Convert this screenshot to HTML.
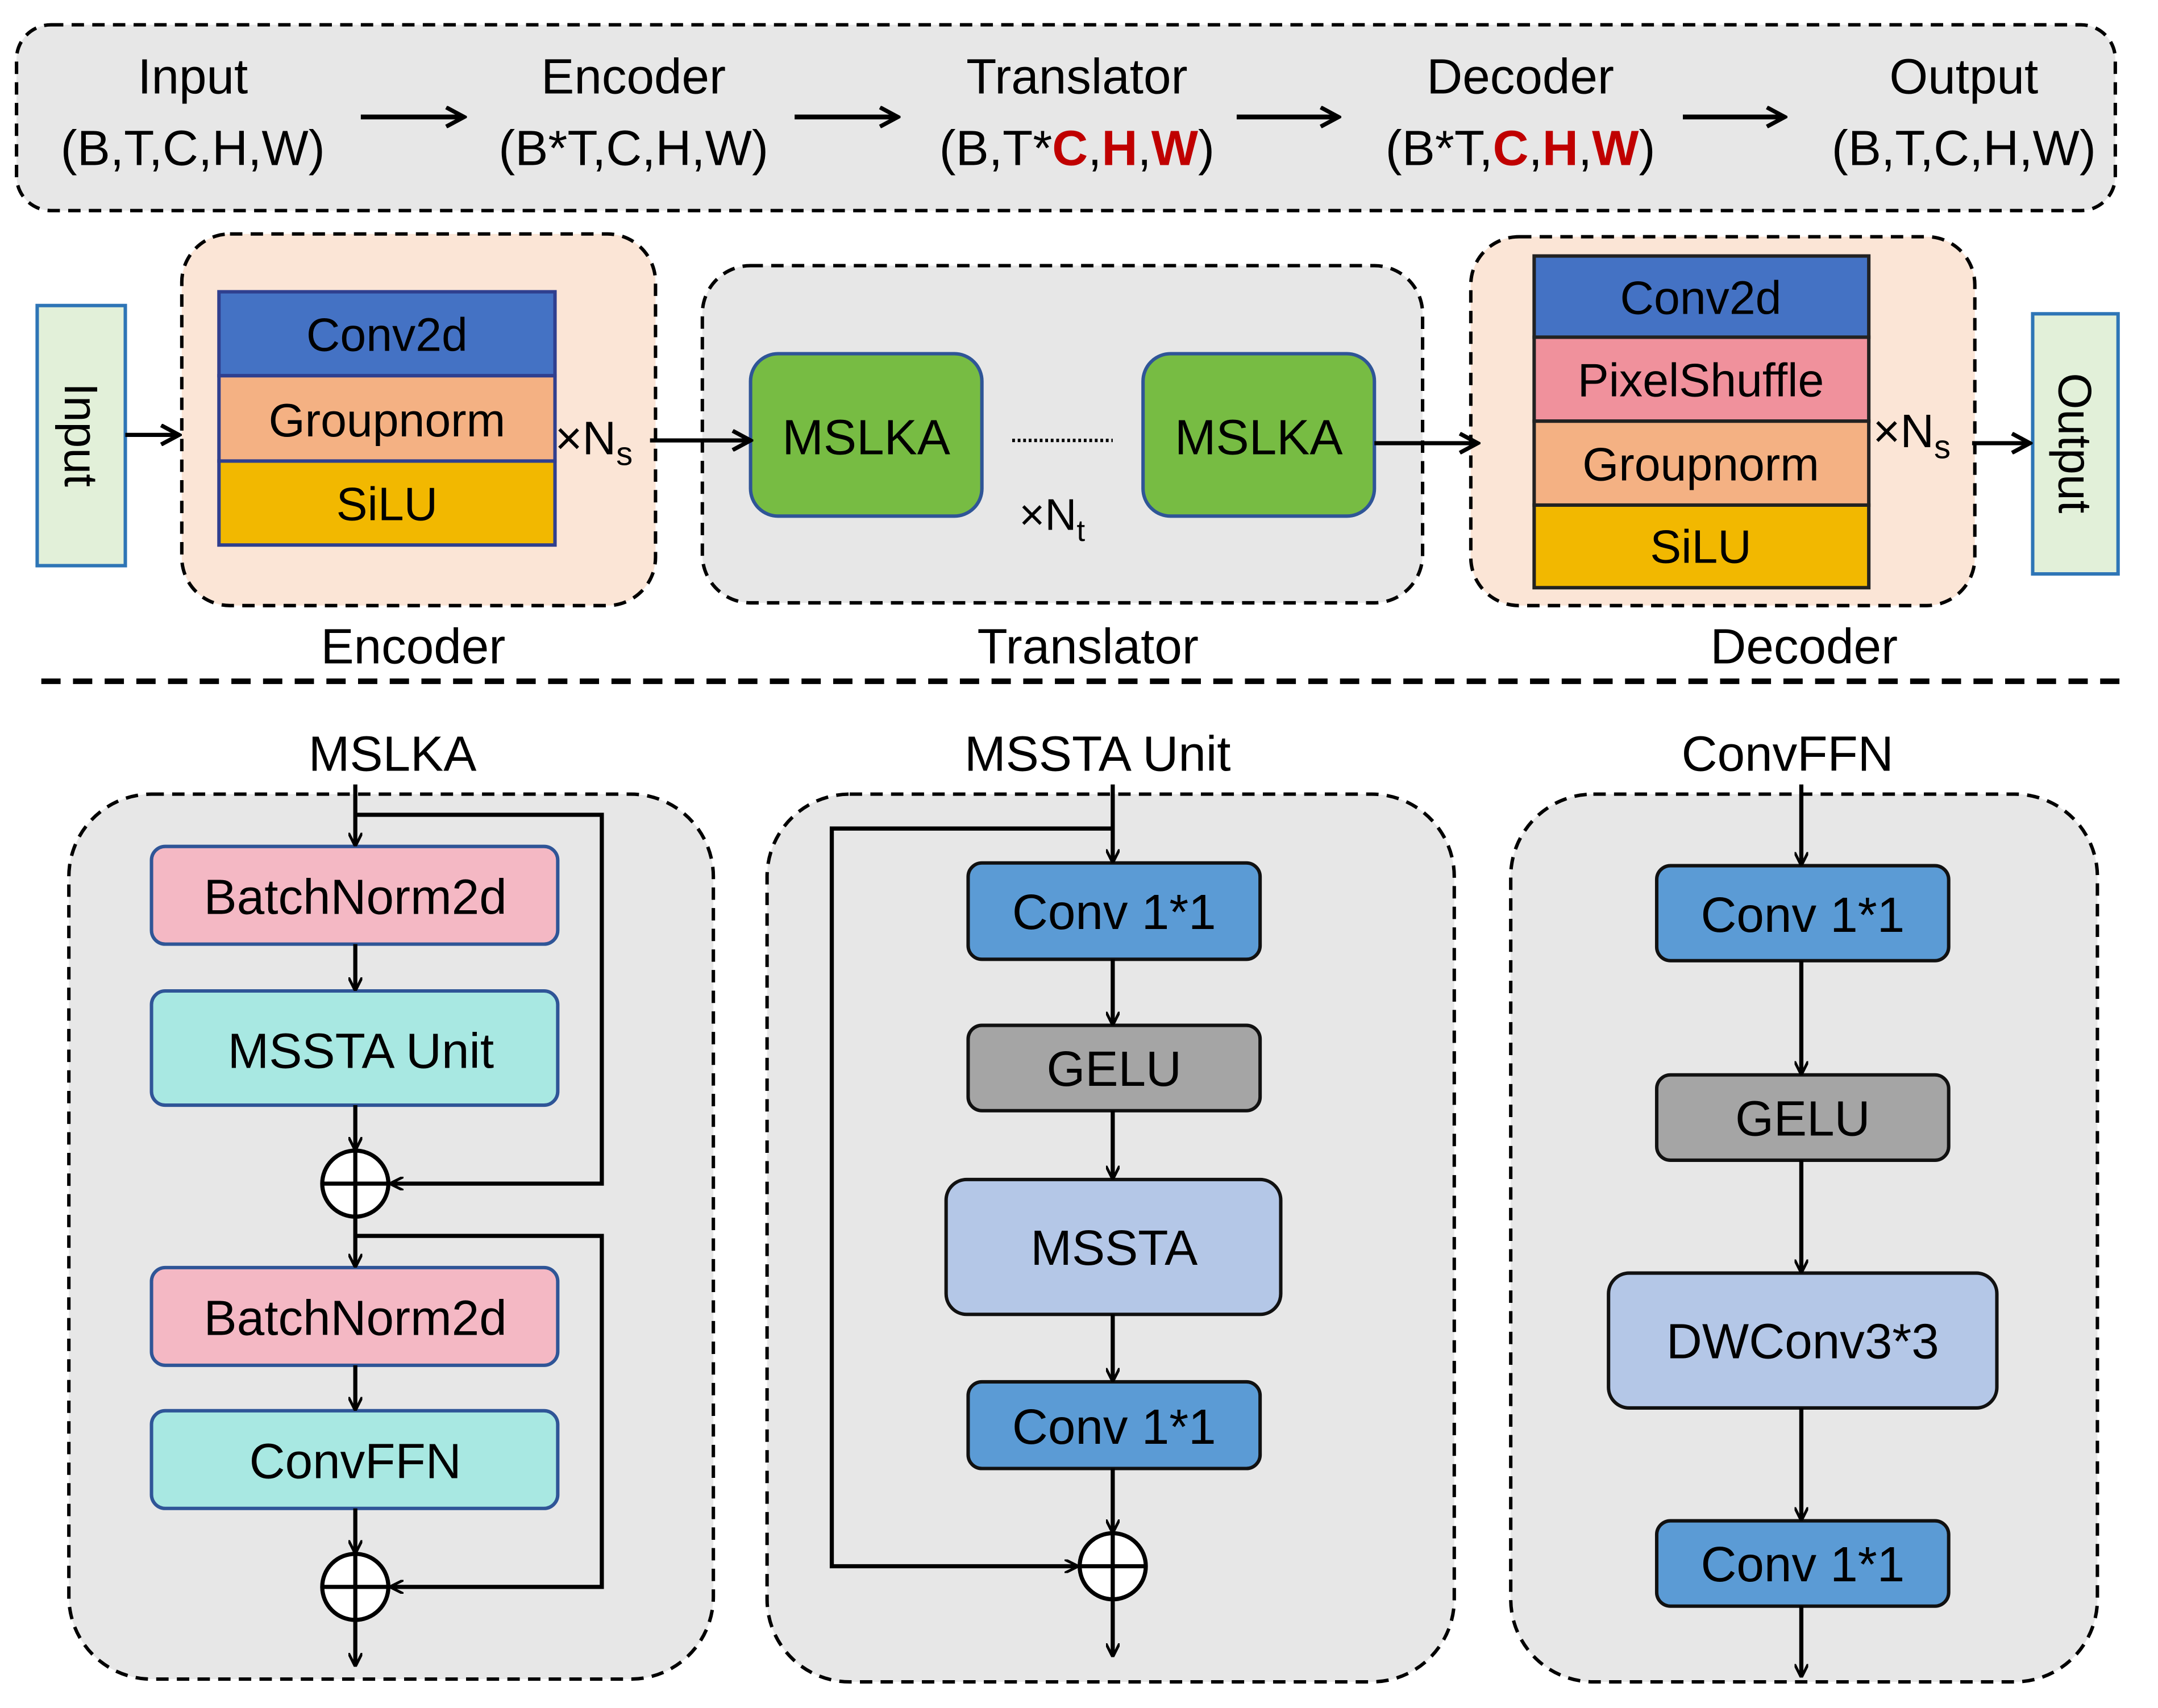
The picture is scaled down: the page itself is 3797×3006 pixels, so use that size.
<!DOCTYPE html>
<html><head><meta charset="utf-8"><style>
html,body{margin:0;padding:0;background:#fff;}
svg{display:block;}
text{font-family:"Liberation Sans",sans-serif;fill:#000;}
</style></head><body>
<svg width="3797" height="3006" viewBox="0 0 1567 1241" preserveAspectRatio="none" xmlns="http://www.w3.org/2000/svg">
<defs>
<marker id="a" markerWidth="10" markerHeight="10" refX="9" refY="5" orient="auto" markerUnits="userSpaceOnUse" viewBox="0 0 10 10">
<path d="M0,0 L10,5 L0,10" fill="none" stroke="#000" stroke-width="2"/></marker>
<marker id="b" markerWidth="16" markerHeight="16" refX="14" refY="8" orient="auto" markerUnits="userSpaceOnUse" viewBox="0 0 16 16">
<path d="M1,1 L14,8 L1,15" fill="none" stroke="#000" stroke-width="3"/></marker>
</defs>
<rect x="12" y="18" width="1524" height="135" rx="25" fill="#e7e7e7" stroke="#000" stroke-width="2.5" stroke-dasharray="9,6"/>
<g font-size="36" text-anchor="middle">
<text x="140" y="68">Input</text><text x="140" y="120">(B,T,C,H,W)</text>
<text x="460" y="68">Encoder</text><text x="460" y="120">(B*T,C,H,W)</text>
<text x="782" y="68">Translator</text><text x="782" y="120">(B,T*<tspan fill="#c00000" font-weight="bold">C</tspan>,<tspan fill="#c00000" font-weight="bold">H</tspan>,<tspan fill="#c00000" font-weight="bold">W</tspan>)</text>
<text x="1104" y="68">Decoder</text><text x="1104" y="120">(B*T,<tspan fill="#c00000" font-weight="bold">C</tspan>,<tspan fill="#c00000" font-weight="bold">H</tspan>,<tspan fill="#c00000" font-weight="bold">W</tspan>)</text>
<text x="1426" y="68">Output</text><text x="1426" y="120">(B,T,C,H,W)</text>
</g>
<g stroke="#000" stroke-width="3.5" marker-end="url(#b)">
<line x1="262" y1="85" x2="337" y2="85"/><line x1="577" y1="85" x2="652" y2="85"/>
<line x1="898" y1="85" x2="972" y2="85"/><line x1="1222" y1="85" x2="1296" y2="85"/>
</g>
<rect x="27" y="222" width="64" height="189" fill="#e2f0d9" stroke="#2e75b6" stroke-width="2.5"/>
<text x="59" y="316" font-size="34" text-anchor="middle" transform="rotate(90 59 316)" dy="12">Input</text>
<rect x="1476" y="228" width="62" height="189" fill="#e2f0d9" stroke="#2e75b6" stroke-width="2.5"/>
<text x="1507" y="322" font-size="34" text-anchor="middle" transform="rotate(90 1507 322)" dy="12">Output</text>
<rect x="132" y="170" width="344" height="270" rx="35" fill="#fbe5d6" stroke="#000" stroke-width="2.5" stroke-dasharray="9,6"/>
<g stroke="#2f3f8f" stroke-width="2.5">
<rect x="159" y="212" width="244" height="61" fill="#4472c4"/>
<rect x="159" y="273" width="244" height="62" fill="#f4b183"/>
<rect x="159" y="335" width="244" height="61" fill="#f2b800"/>
</g>
<g font-size="34" text-anchor="middle">
<text x="281" y="255">Conv2d</text><text x="281" y="317">Groupnorm</text><text x="281" y="378">SiLU</text>
</g>
<text x="403" y="330" font-size="34">×N<tspan font-size="24" dy="8">s</tspan></text>
<rect x="510" y="193" width="523" height="245" rx="35" fill="#e7e7e7" stroke="#000" stroke-width="2.5" stroke-dasharray="9,6"/>
<rect x="545" y="257" width="168" height="118" rx="20" fill="#77bc43" stroke="#2f5597" stroke-width="2.5"/>
<rect x="830" y="257" width="168" height="118" rx="20" fill="#77bc43" stroke="#2f5597" stroke-width="2.5"/>
<text x="629" y="330" font-size="36" text-anchor="middle">MSLKA</text>
<text x="914" y="330" font-size="36" text-anchor="middle">MSLKA</text>
<line x1="735" y1="320" x2="808" y2="320" stroke="#000" stroke-width="2.5" stroke-dasharray="2,2"/>
<text x="740" y="385" font-size="32">×N<tspan font-size="22" dy="8">t</tspan></text>
<rect x="1068" y="172" width="366" height="268" rx="35" fill="#fbe5d6" stroke="#000" stroke-width="2.5" stroke-dasharray="9,6"/>
<g stroke="#222" stroke-width="2.5">
<rect x="1114" y="186" width="243" height="59" fill="#4472c4"/>
<rect x="1114" y="245" width="243" height="61" fill="#f0919c"/>
<rect x="1114" y="306" width="243" height="61" fill="#f4b183"/>
<rect x="1114" y="367" width="243" height="60" fill="#f2b800"/>
</g>
<g font-size="34" text-anchor="middle">
<text x="1235" y="228">Conv2d</text><text x="1235" y="288">PixelShuffle</text>
<text x="1235" y="349">Groupnorm</text><text x="1235" y="409">SiLU</text>
</g>
<text x="1360" y="325" font-size="34">×N<tspan font-size="24" dy="8">s</tspan></text>
<g stroke="#000" stroke-width="3" marker-end="url(#b)">
<line x1="91" y1="316" x2="130" y2="316"/><line x1="472" y1="320" x2="545" y2="320"/>
<line x1="998" y1="322" x2="1073" y2="322"/><line x1="1432" y1="322" x2="1474" y2="322"/>
</g>
<g font-size="36" text-anchor="middle">
<text x="300" y="482">Encoder</text><text x="790" y="482">Translator</text><text x="1310" y="482">Decoder</text>
</g>
<line x1="30" y1="495" x2="1548" y2="495" stroke="#000" stroke-width="4" stroke-dasharray="14,9"/>
<g fill="#e7e7e7" stroke="#000" stroke-width="2.5" stroke-dasharray="9,6">
<rect x="50" y="577" width="468" height="643" rx="60"/>
<rect x="557" y="577" width="499" height="645" rx="60"/>
<rect x="1097" y="577" width="426" height="645" rx="60"/>
</g>
<g font-size="36" text-anchor="middle">
<text x="285" y="560">MSLKA</text><text x="797" y="560">MSSTA Unit</text><text x="1298" y="560">ConvFFN</text>
</g>
<g stroke="#2f5597" stroke-width="2.5">
<rect x="110" y="615" width="295" height="71" rx="10" fill="#f4b8c4"/>
<rect x="110" y="720" width="295" height="83" rx="10" fill="#a8e8e2"/>
<rect x="110" y="921" width="295" height="71" rx="10" fill="#f4b8c4"/>
<rect x="110" y="1025" width="295" height="71" rx="10" fill="#a8e8e2"/>
</g>
<g font-size="36" text-anchor="middle">
<text x="258" y="664">BatchNorm2d</text><text x="262" y="776">MSSTA Unit</text>
<text x="258" y="970">BatchNorm2d</text><text x="258" y="1074">ConvFFN</text>
</g>
<g fill="none" stroke="#000" stroke-width="3">
<circle cx="258" cy="860" r="24" fill="#fff"/><line x1="234" y1="860" x2="282" y2="860"/><line x1="258" y1="836" x2="258" y2="884"/>
<circle cx="258" cy="1153" r="24" fill="#fff"/><line x1="234" y1="1153" x2="282" y2="1153"/><line x1="258" y1="1129" x2="258" y2="1177"/>
<polyline points="258,592 437,592 437,860 284,860" marker-end="url(#a)"/>
<polyline points="258,898 437,898 437,1153 284,1153" marker-end="url(#a)"/>
<line x1="258" y1="570" x2="258" y2="614" marker-end="url(#a)"/>
<line x1="258" y1="686" x2="258" y2="719" marker-end="url(#a)"/>
<line x1="258" y1="803" x2="258" y2="835" marker-end="url(#a)"/>
<line x1="258" y1="884" x2="258" y2="920" marker-end="url(#a)"/>
<line x1="258" y1="992" x2="258" y2="1024" marker-end="url(#a)"/>
<line x1="258" y1="1096" x2="258" y2="1128" marker-end="url(#a)"/>
<line x1="258" y1="1177" x2="258" y2="1210" marker-end="url(#a)"/>
</g>
<g stroke="#111" stroke-width="2.5">
<rect x="703" y="627" width="212" height="70" rx="10" fill="#5b9bd5"/>
<rect x="703" y="745" width="212" height="62" rx="10" fill="#a5a5a5"/>
<rect x="687" y="857" width="243" height="98" rx="15" fill="#b4c7e7"/>
<rect x="703" y="1004" width="212" height="63" rx="10" fill="#5b9bd5"/>
</g>
<g font-size="36" text-anchor="middle">
<text x="809" y="675">Conv 1*1</text><text x="809" y="789">GELU</text>
<text x="809" y="919">MSSTA</text><text x="809" y="1049">Conv 1*1</text>
</g>
<g fill="none" stroke="#000" stroke-width="3">
<circle cx="808" cy="1138" r="24" fill="#fff"/><line x1="784" y1="1138" x2="832" y2="1138"/><line x1="808" y1="1114" x2="808" y2="1162"/>
<polyline points="808,602 604,602 604,1138 782,1138" marker-end="url(#a)"/>
<line x1="808" y1="570" x2="808" y2="626" marker-end="url(#a)"/>
<line x1="808" y1="697" x2="808" y2="744" marker-end="url(#a)"/>
<line x1="808" y1="807" x2="808" y2="856" marker-end="url(#a)"/>
<line x1="808" y1="955" x2="808" y2="1003" marker-end="url(#a)"/>
<line x1="808" y1="1067" x2="808" y2="1113" marker-end="url(#a)"/>
<line x1="808" y1="1162" x2="808" y2="1203" marker-end="url(#a)"/>
</g>
<g stroke="#111" stroke-width="2.5">
<rect x="1203" y="629" width="212" height="69" rx="10" fill="#5b9bd5"/>
<rect x="1203" y="781" width="212" height="62" rx="10" fill="#a5a5a5"/>
<rect x="1168" y="925" width="282" height="98" rx="15" fill="#b4c7e7"/>
<rect x="1203" y="1105" width="212" height="62" rx="10" fill="#5b9bd5"/>
</g>
<g font-size="36" text-anchor="middle">
<text x="1309" y="677">Conv 1*1</text><text x="1309" y="825">GELU</text>
<text x="1309" y="987">DWConv3*3</text><text x="1309" y="1149">Conv 1*1</text>
</g>
<g fill="none" stroke="#000" stroke-width="3">
<line x1="1308" y1="570" x2="1308" y2="628" marker-end="url(#a)"/>
<line x1="1308" y1="698" x2="1308" y2="780" marker-end="url(#a)"/>
<line x1="1308" y1="843" x2="1308" y2="924" marker-end="url(#a)"/>
<line x1="1308" y1="1023" x2="1308" y2="1104" marker-end="url(#a)"/>
<line x1="1308" y1="1167" x2="1308" y2="1218" marker-end="url(#a)"/>
</g>
</svg>
</body></html>
